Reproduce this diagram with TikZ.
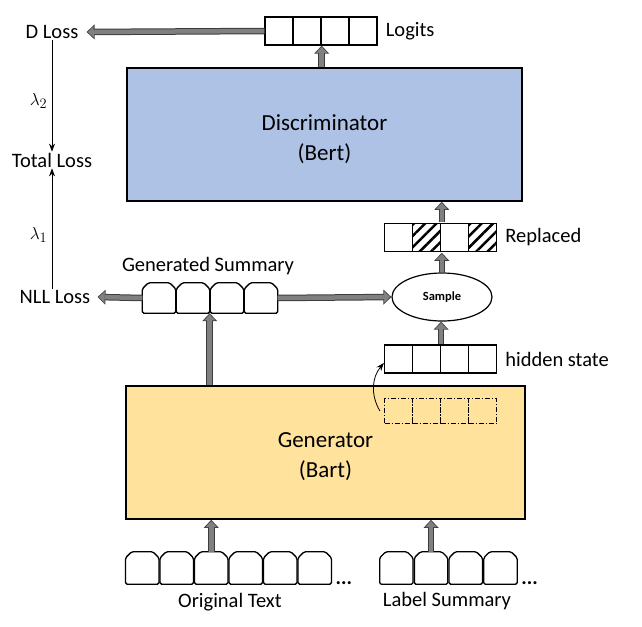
\documentclass[tikz,border=0pt]{standalone}
\usepackage{fontspec}
\setmainfont{Carlito}
\usetikzlibrary{arrows.meta,positioning,shapes.geometric,patterns.meta}

\definecolor{discblue}{RGB}{173,194,229}
\definecolor{genyellow}{RGB}{255,226,155}
\definecolor{arrowgray}{RGB}{128,128,128}
\definecolor{edgegray}{RGB}{60,60,60}

\tikzset{
  model/.style={draw, line width=1.6pt},
  modeltext/.style={align=center, font=\fontsize{23}{30}\selectfont},
  cell/.style={draw, line width=1.3pt, minimum width=28pt, minimum height=28pt, inner sep=0pt},
  hatch/.style={cell, pattern={Lines[angle=45,distance=8pt,line width=2.5pt]}},
  dashcell/.style={cell, minimum height=25pt, line width=1.2pt, dash pattern=on 5pt off 2pt on 1pt off 2pt},
  token/.style={minimum width=33pt, minimum height=32pt, inner sep=0pt},
  tokenline/.style={draw, line width=1.3pt, rounded corners=1.5pt},
  lbl/.style={font=\fontsize{20.5}{24}\selectfont, inner sep=1pt},
  fat/.style={draw=arrowgray, line width=4.5pt, -{Triangle[length=6pt,width=11pt]}, shorten >=1.2pt,
    preaction={draw=edgegray, line width=6.5pt, shorten >=0pt, -{Triangle[length=8pt,width=14.5pt]}}},
  thin/.style={-{Stealth[length=8pt,width=6pt]}, line width=0.8pt},
}

% outline of a token with cut top corners
\newcommand{\tokenbox}[1]{%
  \draw[tokenline] (#1.south west) -- ([yshift=-6pt]#1.north west) -- ([xshift=6pt]#1.north west)
    -- ([xshift=-6pt]#1.north east) -- ([yshift=-6pt]#1.north east) -- (#1.south east) -- cycle;}

\begin{document}
\begin{tikzpicture}[x=1pt,y=-1pt]
\useasboundingbox (0,0) rectangle (642,626);

% models
\node[model, fill=discblue, minimum width=395pt, minimum height=133pt,
  label={[modeltext, yshift=-5pt]center:Discriminator\\(Bert)}] (disc) at (324.5,134.5) {};
\node[model, fill=genyellow, minimum width=399pt, minimum height=133pt,
  label={[modeltext, yshift=-4pt]center:Generator\\(Bart)}] (gen) at (325.5,452.5) {};

% vector rows
\foreach \i in {1,...,4}
  \node[cell] (logit\i) at ({265+28*(\i-0.5)},31) {};
\node[lbl, right=7pt of logit4] (logits) {Logits};

\foreach \i/\s in {1/cell,2/hatch,3/cell,4/hatch}
  \node[\s] (rep\i) at ({384.5+28*(\i-0.5)},237.5) {};
\node[lbl, right=7pt of rep4] (replbl) {Replaced};

\foreach \i in {1,...,4}
  \node[cell] (hid\i) at ({384.5+28*(\i-0.5)},359) {};
\node[lbl, right=7pt of hid4] (hidlbl) {hidden state};

\foreach \i in {1,...,4}
  \node[dashcell] (dd\i) at ({384.5+28*(\i-0.5)},411) {};

\node[draw, ellipse, line width=1.2pt, minimum width=100pt, minimum height=48pt,
  font=\bfseries\fontsize{12.5}{14}\selectfont] (sample) at (442,297) {Sample};

% token rows
\foreach \i in {1,...,4} {
  \node[token, minimum height=30pt] (gs\i) at ({142+34*(\i-0.5)},298) {};
  \tokenbox{gs\i}
}
\node[lbl] (gslbl) at (208,266) {Generated Summary};

\foreach \i in {1,...,6} {
  \node[token] (orig\i) at ({125+34.5*(\i-0.5)},568) {};
  \tokenbox{orig\i}
}
\node[lbl, anchor=base west] (origdots) at ([xshift=3pt]orig6.south east) {\textbf{...}};
\node[lbl] (origlbl) at (230,602) {Original Text};

\foreach \i in {1,...,4} {
  \node[token] (lab\i) at ({379+34.7*(\i-0.5)},568) {};
  \tokenbox{lab\i}
}
\node[lbl, anchor=base west] (labdots) at ([xshift=3pt]lab4.south east) {\textbf{...}};
\node[lbl] (lablbl) at (447,601) {Label Summary};

% losses
\node[lbl] (dloss) at (52,32) {D Loss};
\node[lbl] (total) at (52,160) {Total Loss};
\node[lbl] (nll) at (55,297) {NLL Loss};

\draw[thin] (dloss) -- node[pos=0.55, left=1pt, font=\fontsize{19}{22}\selectfont] {$\lambda_2$} (total);
\draw[thin] (nll.north -| total.south) -- node[pos=0.45, left=1pt, font=\fontsize{19}{22}\selectfont] {$\lambda_1$} (total.south);

% block arrows
\draw[fat] (logit1.west) -- ([xshift=7pt]dloss.east);
\draw[fat] (disc.north -| logit2.east) -- (logit2.south east);
\draw[fat] (gen.north -| gs2.east) -- (gs2.south east);
\draw[fat] (gs1.west) -- ([xshift=6pt]nll.east);
\draw[fat] (gs4.east) -- (sample.west);
\draw[fat] (sample.north -| rep2.east) -- (rep2.south east);
\draw[fat] (rep2.north east) -- (disc.south -| rep2.east);
\draw[fat] (hid2.north east) -- (sample.south -| hid2.east);
\draw[fat] (orig3.north) -- (gen.south -| orig3.north);
\draw[fat] (lab2.north) -- (gen.south -| lab2.north);

% hidden state taken from the generator
\draw[thin] ([xshift=-4pt]dd1.west) to[bend left=35] ([yshift=-4pt]hid1.west);
\end{tikzpicture}
\end{document}
